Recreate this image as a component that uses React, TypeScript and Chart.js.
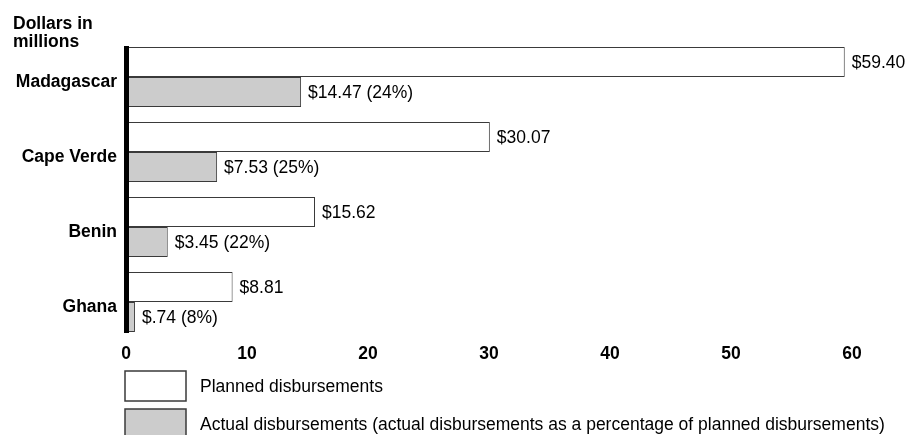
import React, { useEffect, useRef } from 'react';
import { Chart, registerables } from 'chart.js';

Chart.register(...registerables);

const countries = ['Madagascar', 'Cape Verde', 'Benin', 'Ghana'];
const planned = [59.4, 30.07, 15.62, 8.81];
const actual = [14.47, 7.53, 3.45, 0.74];
const actualPct = [24, 25, 22, 8];
const xTickValues = [0, 10, 20, 30, 40, 50, 60];
const titleLines = ['Dollars in', 'millions'];
const seriesLabels = [
  'Planned disbursements',
  'Actual disbursements (actual disbursements as a percentage of planned disbursements)',
];

const FONT = "'Liberation Sans', Arial, Helvetica, sans-serif";
const FS = 17.5;
const EDGE = '#3a3a3a';

function money(v: number): string {
  const s = v.toFixed(2);
  return '$' + (v < 1 ? s.replace(/^0/, '') : s);
}

const decor = {
  id: 'decor',
  afterDatasetsDraw(chart: any) {
    const ctx = chart.ctx as CanvasRenderingContext2D;
    const area = chart.chartArea;
    ctx.save();

    // value labels
    ctx.font = `${FS}px ${FONT}`;
    ctx.fillStyle = '#000';
    ctx.textBaseline = 'middle';
    ctx.textAlign = 'left';
    chart.data.datasets.forEach((ds: any, di: number) => {
      const meta = chart.getDatasetMeta(di);
      meta.data.forEach((bar: any, i: number) => {
        const v = ds.data[i] as number;
        let txt = money(v);
        if (di === 1) txt += ` (${actualPct[i]}%)`;
        ctx.fillText(txt, bar.x + 7, bar.y + 1);
      });
    });

    // thick vertical axis line spanning the bars
    const m0 = chart.getDatasetMeta(0).data;
    const m1 = chart.getDatasetMeta(1).data;
    const top = Math.min(...m0.map((b: any) => b.y - b.height / 2));
    const bottom = Math.max(...m1.map((b: any) => b.y + b.height / 2));
    const x0 = chart.scales.x.getPixelForValue(0);
    ctx.fillStyle = '#000';
    ctx.fillRect(x0 - 2, top - 1, 5, bottom - top + 2);

    // title
    ctx.font = `bold ${FS}px ${FONT}`;
    ctx.textBaseline = 'alphabetic';
    ctx.fillText(titleLines[0], 13, 28.5);
    ctx.fillText(titleLines[1], 13, 46.8);

    // legend
    ctx.font = `${FS}px ${FONT}`;
    ctx.textBaseline = 'middle';
    chart.data.datasets.forEach((ds: any, di: number) => {
      const bx = area.left - 1;
      const by = area.bottom + 31.5 + di * 38;
      const bw = 61;
      const bh = 30;
      ctx.fillStyle = ds.backgroundColor;
      ctx.fillRect(bx, by, bw, bh);
      ctx.strokeStyle = EDGE;
      ctx.lineWidth = 1.5;
      ctx.strokeRect(bx, by, bw, bh);
      ctx.fillStyle = '#000';
      ctx.fillText(ds.label, bx + bw + 14, by + bh / 2 + 1);
    });

    ctx.restore();
  },
};

export default function App() {
  const ref = useRef<HTMLCanvasElement | null>(null);

  useEffect(() => {
    if (!ref.current) return;
    const chart = new Chart(ref.current, {
      type: 'bar',
      data: {
        labels: countries,
        datasets: [
          {
            label: seriesLabels[0],
            data: planned,
            backgroundColor: '#ffffff',
            borderColor: EDGE,
            borderWidth: 1,
            categoryPercentage: 0.8,
            barPercentage: 1,
          },
          {
            label: seriesLabels[1],
            data: actual,
            backgroundColor: '#cccccc',
            borderColor: EDGE,
            borderWidth: 1,
            categoryPercentage: 0.8,
            barPercentage: 1,
          },
        ],
      },
      options: {
        indexAxis: 'y',
        responsive: false,
        animation: false,
        events: [],
        layout: { padding: { left: 0, top: 39.5, right: 67, bottom: 0 } },
        plugins: {
          legend: { display: false },
          title: { display: false },
          tooltip: { enabled: false },
        },
        scales: {
          x: {
            type: 'linear',
            min: xTickValues[0],
            max: xTickValues[xTickValues.length - 1],
            afterBuildTicks: (axis: any) => {
              axis.ticks = xTickValues.map((v) => ({ value: v }));
            },
            afterFit: (axis: any) => {
              axis.height = 95.5;
            },
            grid: { display: false, drawTicks: false },
            border: { display: false },
            ticks: {
              color: '#000',
              font: { family: FONT, size: FS, weight: 'bold' },
              padding: 4,
              maxRotation: 0,
            },
          },
          y: {
            type: 'category',
            afterFit: (axis: any) => {
              axis.width = 126;
            },
            grid: { display: false, drawTicks: false },
            border: { display: false },
            ticks: {
              color: '#000',
              font: { family: FONT, size: FS, weight: 'bold' },
              padding: 9,
              labelOffset: 5,
            },
          },
        },
      },
      plugins: [decor],
    } as any);
    return () => chart.destroy();
  }, []);

  return (
    <div style={{ position: 'absolute', left: 0, top: 0, width: 919, height: 435, overflow: 'hidden', background: '#fff' }}>
      <canvas ref={ref} width={919} height={435} style={{ display: 'block', width: 919, height: 435 }} />
    </div>
  );
}
